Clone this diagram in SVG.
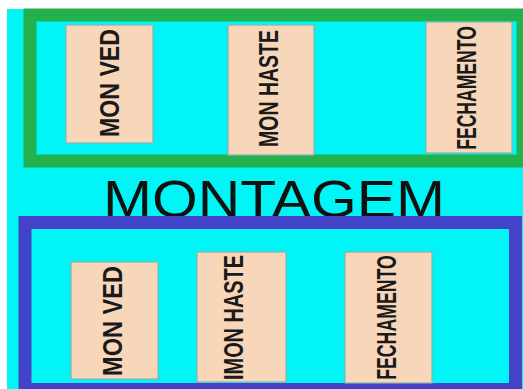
<svg xmlns="http://www.w3.org/2000/svg" width="523" height="389" viewBox="0 0 523 389">
  <style>
    .box { fill: #F8D6BA; stroke: #86B3AE; stroke-width: 1.2; }
    .lbl { font-family: "Liberation Sans", Arial, sans-serif; font-weight: bold; font-size: 28px; fill: #1a1a1a; text-anchor: middle; }
    .title { font-family: "Liberation Sans", Arial, sans-serif; font-size: 52px; fill: #111; }
  </style>
  <rect x="0" y="0" width="523" height="389" fill="#ffffff"/>
  <rect x="7" y="9" width="516" height="380" fill="#00F6F6"/>

  <g id="title">
    <text class="title" x="103" y="217" textLength="342" lengthAdjust="spacingAndGlyphs">MONTAGEM</text>
  </g>

  <g id="group-top">
    <rect x="30" y="15" width="493" height="146" fill="none" stroke="#22B14C" stroke-width="13"/>
  </g>
  <g id="group-bottom">
    <rect x="25" y="222.5" width="490.5" height="167" fill="none" stroke="#4343C9" stroke-width="13"/>
  </g>

  <g id="top-mon-ved">
    <rect class="box" x="66" y="25" width="87" height="118"/>
    <text class="lbl" transform="translate(119,83) rotate(-90) scale(0.826,1)">MON VED</text>
  </g>
  <g id="top-mon-haste">
    <rect class="box" x="228" y="25" width="86" height="130"/>
    <text class="lbl" transform="translate(278,88.5) rotate(-90) scale(0.696,1)">MON HASTE</text>
  </g>
  <g id="top-fechamento">
    <rect class="box" x="426" y="22" width="86" height="131"/>
    <text class="lbl" transform="translate(476,88) rotate(-90) scale(0.628,1)">FECHAMENTO</text>
  </g>

  <g id="bottom-mon-ved">
    <rect class="box" x="71" y="262" width="87" height="117"/>
    <text class="lbl" transform="translate(122,321) rotate(-90) scale(0.842,1)">MON VED</text>
  </g>
  <g id="bottom-mon-haste">
    <rect class="box" x="197" y="252" width="89" height="130"/>
    <text class="lbl" transform="translate(243,317.5) rotate(-90) scale(0.711,1)">IMON HASTE</text>
  </g>
  <g id="bottom-fechamento">
    <rect class="box" x="345" y="252" width="87" height="131"/>
    <text class="lbl" transform="translate(396,317.5) rotate(-90) scale(0.633,1)">FECHAMENTO</text>
  </g>

  <g id="connectors"></g>
</svg>
